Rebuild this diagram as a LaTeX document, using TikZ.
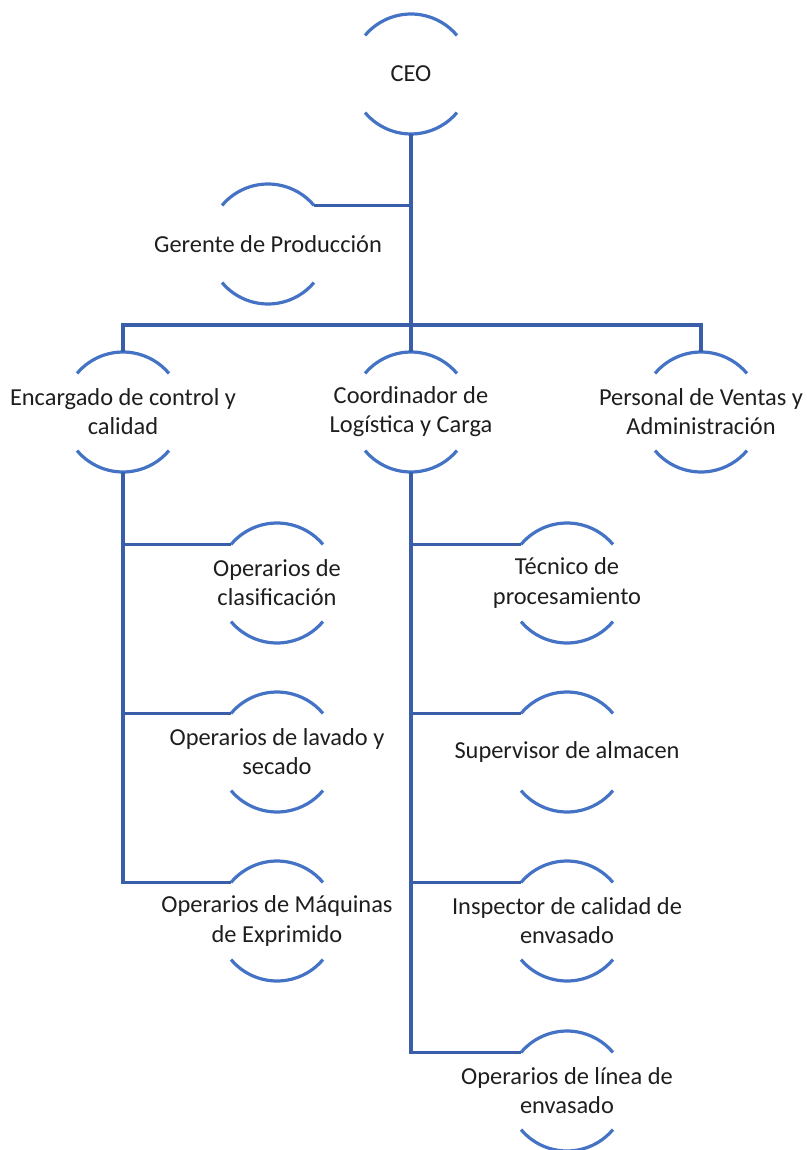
\documentclass[tikz,border=0pt]{standalone}
\usepackage{fontspec}
\setmainfont{Carlito}
\usepackage{tikz}
\definecolor{orgblue}{RGB}{68,114,196}
\definecolor{orgline}{RGB}{58,94,170}
\definecolor{orgtext}{RGB}{30,30,30}

\begin{document}
\begin{tikzpicture}[x=0.5pt, y=0.5pt,
    unit/.style={circle, minimum size=60pt, inner sep=0pt, outer sep=0pt},
    lbl/.style={align=center, text=orgtext, font=\fontsize{12.2}{14.6}\selectfont},
    arcline/.style={orgblue, line width=1.6pt},
    link/.style={orgline, line width=1.6pt}]
    \useasboundingbox (0,0) rectangle (807,-1150);
    % Units
    \node[unit, label={[lbl]center:CEO}] (ceo) at (411,-74) {};
    \node[unit, label={[lbl]center:Gerente de Producción}] (ger) at (268,-244) {};
    \node[unit, label={[lbl]center:{Encargado de control y\\calidad}}] (enc) at (123,-412) {};
    \node[unit, label={[lbl]center:{Coordinador de\\Logística y Carga}}] (coo) at (411,-412) {};
    \node[unit, label={[lbl]center:{Personal de Ventas y\\Administración}}] (per) at (701,-412) {};
    \node[unit, label={[lbl]center:{Operarios de\\clasificación}}] (cla) at (277,-583) {};
    \node[unit, label={[lbl]center:{Operarios de lavado y\\secado}}] (lav) at (277,-752) {};
    \node[unit, label={[lbl]center:{Operarios de Máquinas\\de Exprimido}}] (maq) at (277,-921) {};
    \node[unit, label={[lbl]center:{Técnico de\\procesamiento}}] (tec) at (567,-583) {};
    \node[unit, label={[lbl]center:Supervisor de almacen}] (sup) at (567,-752) {};
    \node[unit, label={[lbl]center:{Inspector de calidad de\\envasado}}] (ins) at (567,-921) {};
    \node[unit, label={[lbl]center:{Operarios de línea de\\envasado}}] (lin) at (567,-1091) {};
    % Arcs
    \foreach \u in {ceo,ger,enc,coo,per,cla,lav,maq,tec,sup,ins,lin}
        \draw[arcline] (\u.140) arc[start angle=140, end angle=40, radius=30pt]
                       (\u.220) arc[start angle=220, end angle=320, radius=30pt];
    % Edges
    \coordinate (bus) at (411,-325);
    \draw[link] (ceo.south) -- (bus);
    \draw[link] (ger.40) -- (ger.40 -| ceo);
    \draw[link] (enc.north) |- (bus) -| (per.north);
    \draw[link] (coo.north) -- (bus);
    \foreach \u in {cla,lav,maq}
        \draw[link] (enc.south) |- (\u.140);
    \foreach \u in {tec,sup,ins,lin}
        \draw[link] (coo.south) |- (\u.140);
\end{tikzpicture}
\end{document}
